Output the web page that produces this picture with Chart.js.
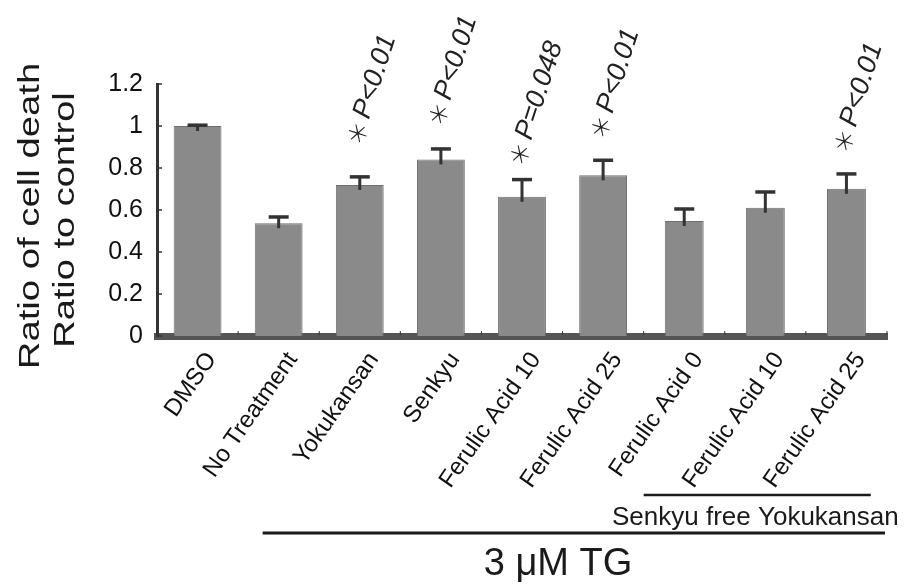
<!DOCTYPE html>
<html>
<head>
<meta charset="utf-8">
<script src="https://cdn.jsdelivr.net/npm/chart.js@4.4.1/dist/chart.umd.min.js"></script>
<style>
  body { margin: 0; background: #fff; }
  #wrap { width: 911px; height: 585px; }
</style>
</head>
<body>
<div id="wrap"><canvas id="chart" width="911" height="585"></canvas></div>
<script>
// values
const categories = ['DMSO', 'No Treatment', 'Yokukansan', 'Senkyu', 'Ferulic Acid 10',
  'Ferulic Acid 25', 'Ferulic Acid 0', 'Ferulic Acid 10', 'Ferulic Acid 25'];
const ratios = [1.0, 0.537, 0.719, 0.841, 0.663, 0.765, 0.548, 0.611, 0.701];
const errors = [0.005, 0.031, 0.040, 0.051, 0.083, 0.073, 0.058, 0.076, 0.072];
const senkyuFree = [false, false, false, false, false, false, true, true, true];
const pLabels = ['', '', 'P<0.01', 'P<0.01', 'P=0.048', 'P<0.01', '', '', 'P<0.01'];
const pLabelAt = [null, null, 0.967, 1.057, 0.867, 0.995, null, null, 0.929];
const yTicks = [0, 0.2, 0.4, 0.6, 0.8, 1, 1.2];

const BAR = '#8a8a8a';
const INK = '#1a1a1a';

// error bars, inner tick marks, significance labels and group brackets
const extras = {
  id: 'extras',
  afterDatasetsDraw(chart) {
    const ctx = chart.ctx;
    const x = chart.scales.x;
    const y = chart.scales.y;
    const catW = x.width / categories.length;

    ctx.save();
    ctx.strokeStyle = '#333';
    ctx.fillStyle = '#333';
    chart.data.datasets.forEach((ds, di) => {
      const meta = chart.getDatasetMeta(di);
      meta.data.forEach((el, i) => {
        if (ds.data[i] == null) return;
        const top = y.getPixelForValue(ds.data[i] + errors[i]);
        ctx.lineWidth = 3;
        ctx.beginPath();
        ctx.moveTo(el.x, el.y + 5);
        ctx.lineTo(el.x, top);
        ctx.stroke();
        ctx.fillRect(el.x - 10, top - 1.5, 20, 3.5);
      });
    });

    // inward ticks
    ctx.lineWidth = 1.5;
    yTicks.forEach(v => {
      const py = y.getPixelForValue(v);
      ctx.beginPath();
      ctx.moveTo(x.left, py);
      ctx.lineTo(x.left + 5, py);
      ctx.stroke();
    });
    ctx.lineWidth = 1;
    for (let i = 1; i <= categories.length; i++) {
      const px = x.getPixelForValue(i) - catW / 2;
      ctx.beginPath();
      ctx.moveTo(px, y.bottom - 1);
      ctx.lineTo(px, y.bottom - 5);
      ctx.stroke();
    }

    // significance labels
    ctx.fillStyle = '#222';
    pLabels.forEach((txt, i) => {
      if (!txt) return;
      const px = x.getPixelForValue(i) - 3;
      const py = y.getPixelForValue(pLabelAt[i]);
      ctx.save();
      ctx.translate(px, py);
      ctx.rotate(-72 * Math.PI / 180);
      ctx.textBaseline = 'middle';
      ctx.textAlign = 'center';
      ctx.font = '300 24px "Noto Sans CJK JP"';
      ctx.fillText('＊', 0, 1);
      ctx.textAlign = 'left';
      ctx.font = 'italic 27px "Liberation Sans"';
      ctx.fillText(txt, 16, 0);
      ctx.restore();
    });

    // group brackets
    ctx.fillStyle = INK;
    ctx.strokeStyle = INK;
    const firstFree = senkyuFree.indexOf(true);
    const last = categories.length - 1;
    ctx.lineWidth = 2.5;
    ctx.beginPath();
    ctx.moveTo(x.getPixelForValue(firstFree) - catW / 2, 495);
    ctx.lineTo(x.getPixelForValue(last) + catW * 0.3, 495);
    ctx.stroke();
    ctx.font = '26px "Liberation Sans"';
    ctx.textAlign = 'left';
    ctx.textBaseline = 'alphabetic';
    ctx.fillText('Senkyu free Yokukansan', 612, 525);

    ctx.lineWidth = 3;
    ctx.beginPath();
    ctx.moveTo(x.getPixelForValue(1) - 16, 533);
    ctx.lineTo(x.right - 2, 533);
    ctx.stroke();
    ctx.font = '38px "Liberation Sans"';
    ctx.textAlign = 'center';
    ctx.fillText('3 μM TG', 558, 575);
    ctx.restore();
  },
  afterDraw(chart) {
    // stretched two-line y axis title
    const ctx = chart.ctx;
    const lines = [
      { text: 'Ratio of cell death', x: 39, y: 216, sx: 1.32 },
      { text: 'Ratio to control', x: 74, y: 220, sx: 1.31 }
    ];
    ctx.save();
    ctx.fillStyle = INK;
    ctx.font = '29px "Liberation Sans"';
    ctx.textAlign = 'center';
    ctx.textBaseline = 'alphabetic';
    lines.forEach(l => {
      ctx.save();
      ctx.translate(l.x, l.y);
      ctx.rotate(-Math.PI / 2);
      ctx.scale(l.sx, 1);
      ctx.fillText(l.text, 0, 0);
      ctx.restore();
    });
    ctx.restore();
  }
};

new Chart(document.getElementById('chart'), {
  type: 'bar',
  data: {
    labels: categories,
    datasets: [
      {
        data: ratios.map((v, i) => senkyuFree[i] ? null : v),
        backgroundColor: BAR,
        borderColor: '#6f6f6f',
        borderWidth: 1,
        barPercentage: 0.59,
        categoryPercentage: 1,
        grouped: false
      },
      {
        data: ratios.map((v, i) => senkyuFree[i] ? v : null),
        backgroundColor: BAR,
        borderColor: '#6f6f6f',
        borderWidth: 1,
        barPercentage: 0.48,
        categoryPercentage: 1,
        grouped: false
      }
    ]
  },
  options: {
    responsive: false,
    animation: false,
    layout: { padding: { top: 84, right: 24, left: 0, bottom: 0 } },
    plugins: {
      legend: { display: false },
      tooltip: { enabled: false }
    },
    scales: {
      x: {
        grid: { display: false, drawTicks: false },
        border: { display: true, color: '#555', width: 7 },
        ticks: {
          color: '#111',
          font: { family: '"Liberation Sans Narrow", "Liberation Sans", Arial', size: 24 },
          minRotation: 55,
          maxRotation: 55,
          padding: 11,
          labelOffset: 14,
          autoSkip: false
        },
        afterFit(scale) { scale.height = 249; }
      },
      y: {
        min: 0,
        max: 1.2,
        afterBuildTicks(scale) { scale.ticks = yTicks.map(v => ({ value: v })); },
        grid: { display: false, drawTicks: false },
        border: { display: true, color: '#333', width: 3 },
        ticks: {
          color: '#111',
          font: { family: '"Liberation Sans", Arial', size: 25 },
          padding: 14,
          callback: v => String(Math.round(v * 10) / 10)
        },
        afterFit(scale) { scale.width = 157; }
      }
    }
  },
  plugins: [extras]
});
</script>
</body>
</html>
